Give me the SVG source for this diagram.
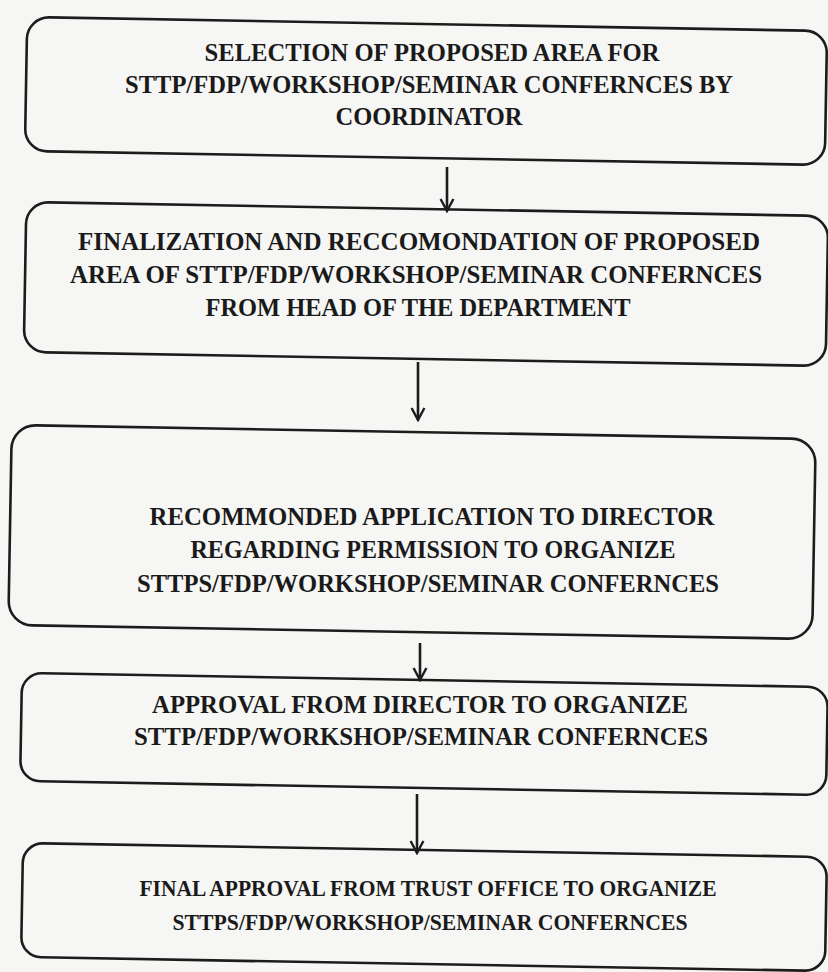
<svg xmlns="http://www.w3.org/2000/svg" width="828" height="972" viewBox="0 0 828 972">
<defs>
<style>
.bg{fill:#f6f6f4}
.box{fill:none;stroke:#1c1c1c;stroke-width:2.6}
.t{font-family:"Liberation Serif","Times New Roman",serif;font-weight:bold;font-size:26px;fill:#1a1a1a;text-anchor:middle}
.s{font-size:24px}
.con{stroke:#1c1c1c;stroke-width:2.6;fill:none}
</style>
<marker id="ah" viewBox="0 0 20 20" refX="18" refY="10" markerWidth="16" markerHeight="16" markerUnits="userSpaceOnUse" orient="auto">
<path d="M3,2 L18,10 L3,18" fill="none" stroke="#1c1c1c" stroke-width="3" stroke-linejoin="miter"/>
</marker>
</defs>
<rect class="bg" x="0" y="0" width="828" height="972"/>
<g id="n1">
<rect class="box" x="26" y="24" width="800" height="134" rx="22" transform="rotate(1 426 91)"/>
<text class="t" x="432" y="61" textLength="455" lengthAdjust="spacingAndGlyphs">SELECTION OF PROPOSED AREA FOR</text>
<text class="t" x="429" y="93" textLength="608" lengthAdjust="spacingAndGlyphs">STTP/FDP/WORKSHOP/SEMINAR CONFERNCES BY</text>
<text class="t" x="429" y="125" textLength="187" lengthAdjust="spacingAndGlyphs">COORDINATOR</text>
</g>
<g id="n2">
<rect class="box" x="25" y="209" width="802" height="150" rx="22" transform="rotate(1 426 284)"/>
<text class="t" x="419" y="250" textLength="682" lengthAdjust="spacingAndGlyphs">FINALIZATION AND RECCOMONDATION OF PROPOSED</text>
<text class="t" x="416" y="283" textLength="692" lengthAdjust="spacingAndGlyphs">AREA OF STTP/FDP/WORKSHOP/SEMINAR CONFERNCES</text>
<text class="t" x="418" y="316" textLength="425" lengthAdjust="spacingAndGlyphs">FROM HEAD OF THE DEPARTMENT</text>
</g>
<g id="n3">
<rect class="box" x="10" y="432" width="804" height="200" rx="24" transform="rotate(1 412 532)"/>
<text class="t" x="432" y="525" textLength="565" lengthAdjust="spacingAndGlyphs">RECOMMONDED APPLICATION TO DIRECTOR</text>
<text class="t" x="433" y="558" textLength="485" lengthAdjust="spacingAndGlyphs">REGARDING PERMISSION TO ORGANIZE</text>
<text class="t" x="428" y="592" textLength="582" lengthAdjust="spacingAndGlyphs">STTPS/FDP/WORKSHOP/SEMINAR CONFERNCES</text>
</g>
<g id="n4">
<rect class="box" x="21" y="680" width="806" height="108" rx="20" transform="rotate(1 424 734)"/>
<text class="t" x="420" y="713" textLength="536" lengthAdjust="spacingAndGlyphs">APPROVAL FROM DIRECTOR TO ORGANIZE</text>
<text class="t" x="421" y="745" textLength="574" lengthAdjust="spacingAndGlyphs">STTP/FDP/WORKSHOP/SEMINAR CONFERNCES</text>
</g>
<g id="n5">
<rect class="box" x="22" y="850" width="804" height="114" rx="20" transform="rotate(1 424 907)"/>
<text class="t s" x="428" y="896" textLength="577" lengthAdjust="spacingAndGlyphs">FINAL APPROVAL FROM TRUST OFFICE TO ORGANIZE</text>
<text class="t s" x="430" y="930" textLength="515" lengthAdjust="spacingAndGlyphs">STTPS/FDP/WORKSHOP/SEMINAR CONFERNCES</text>
</g>
<g id="connectors">
<line class="con" x1="447" y1="167" x2="447" y2="211" marker-end="url(#ah)"/>
<line class="con" x1="418" y1="362" x2="418" y2="420" marker-end="url(#ah)"/>
<line class="con" x1="420" y1="643" x2="420" y2="680" marker-end="url(#ah)"/>
<line class="con" x1="417" y1="794" x2="417" y2="853" marker-end="url(#ah)"/>
</g>
</svg>
